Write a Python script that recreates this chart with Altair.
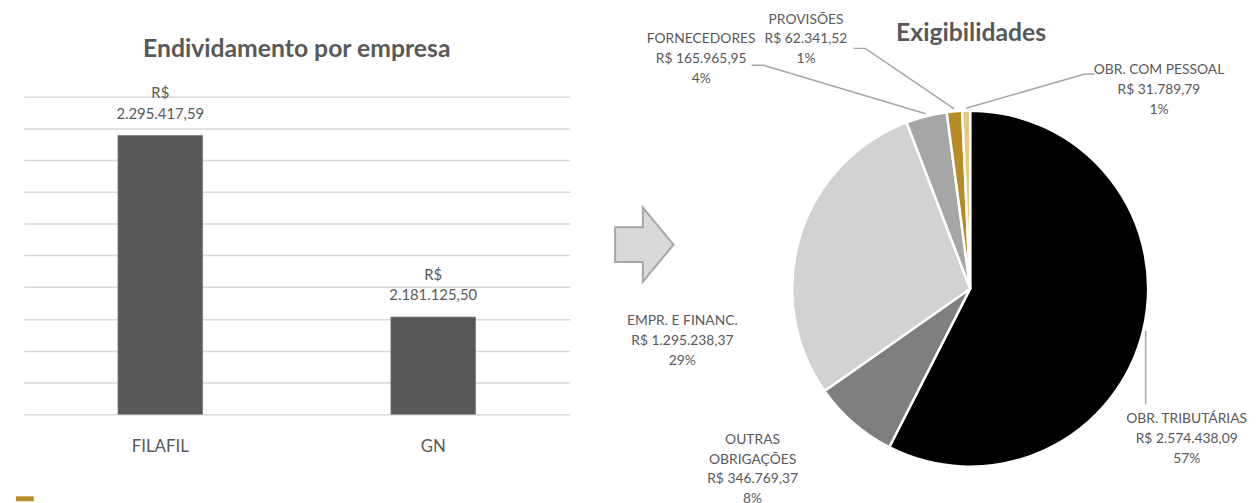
import math
import altair as alt
import pandas as pd

# ---------------- data ----------------
empresas = ["FILAFIL", "GN"]
endividamento = [2295417.59, 2181125.50]

contas = ["OBR. TRIBUTÁRIAS", "OUTRAS OBRIGAÇÕES", "EMPR. E FINANC.",
          "FORNECEDORES", "PROVISÕES", "OBR. COM PESSOAL"]
exigibilidades = [2574438.09, 346769.37, 1295238.37, 165965.95, 62341.52, 31789.79]

eixo_min = 2120000
eixo_max = 2320000
eixo_passo = 20000

# ---------------- style ----------------
FONT = "Lato"
TXT = "#595959"
cores = ["#000000", "#7f7f7f", "#d2d2d2", "#a6a6a6", "#b78b26", "#e9c87e"]
quebra_nome = {"OUTRAS OBRIGAÇÕES": "OUTRAS\nOBRIGAÇÕES"}

CX, CY, R = 372, 281, 180        # pie centre / radius (pixels in right panel)
R_GUIA = 182.5                   # where leader lines touch the pie
pos_rotulo = {                   # label first-line anchors (layout, pixels)
    "OBR. TRIBUTÁRIAS": (591, 413),
    "OUTRAS OBRIGAÇÕES": (152, 434),
    "EMPR. E FINANC.": (81, 314),
    "FORNECEDORES": (100, 29),
    "PROVISÕES": (206, 9),
    "OBR. COM PESSOAL": (563, 60),
}
guias = {                        # leader line bends / ends (layout, pixels)
    "OBR. TRIBUTÁRIAS": [(None, 398)],
    "FORNECEDORES": [(163, 55), (151, 55)],
    "PROVISÕES": [(266, 38), (254, 38)],
    "OBR. COM PESSOAL": [(488, 64), (498, 64)],
}
SETA = ("M -1 -0.593 L -0.051 -0.593 L -0.051 -1.271 L 1 0 "
        "L -0.051 1.271 L -0.051 0.593 L -1 0.593 Z")


def brl(v):
    s = f"{v:,.2f}"
    return s.replace(",", "X").replace(".", ",").replace("X", ".")


def percentuais(vals):
    """Percentages that add up to 100 (largest remainder, as Excel shows)."""
    tot = sum(vals)
    bruto = [v / tot * 100 for v in vals]
    base = [math.floor(b) for b in bruto]
    falta = 100 - sum(base)
    ordem = sorted(range(len(vals)), key=lambda i: bruto[i] - base[i],
                   reverse=True)
    for i in ordem[:falta]:
        base[i] += 1
    return base


# ---------------- left: bars ----------------
df_bar = pd.DataFrame({
    "empresa": empresas,
    "valor": endividamento,
    "rotulo": ["R$\n" + brl(v) for v in endividamento],
})
marcas = list(range(eixo_min, eixo_max + 1, eixo_passo))

x_bar = alt.X("empresa:N", sort=empresas,
              scale=alt.Scale(paddingInner=0.69, paddingOuter=0.345),
              axis=alt.Axis(title=None, labelFont=FONT, labelFontSize=17,
                            labelColor=TXT, ticks=False, tickSize=0,
                            domain=False, grid=False, labelAngle=0,
                            labelPadding=25))
y_bar = alt.Y("valor:Q",
              scale=alt.Scale(domain=[eixo_min, eixo_max], range=[408, 86.5],
                              zero=False, nice=False),
              axis=alt.Axis(title=None, labels=False, ticks=False,
                            domain=False, grid=True, values=marcas,
                            gridColor="#d9d9d9", gridWidth=1.5))

barras = alt.Chart(df_bar).mark_bar(color="#585858", stroke="#7a7a7a",
                                    strokeWidth=0.8).encode(
    x=x_bar, y=y_bar, y2=alt.datum(eixo_min))

rot_barras = alt.Chart(df_bar).mark_text(
    font=FONT, fontSize=15, color=TXT, lineBreak="\n", lineHeight=21,
    align="center", baseline="middle", dy=-43).encode(
    x=alt.X("empresa:N", sort=empresas), y="valor:Q", text="rotulo:N")

dummy = pd.DataFrame({"k": [0]})
quadrado = alt.Chart(dummy).mark_rect(color="#b78b26").encode(
    x=alt.value(-8), x2=alt.value(10), y=alt.value(491), y2=alt.value(496))

esquerda = alt.layer(barras, rot_barras, quadrado).properties(
    width=552, height=408,
    title=alt.TitleParams("Endividamento por empresa", font=FONT, fontSize=25,
                          fontWeight="bold", color=TXT, anchor="middle",
                          frame="group", offset=-51.5))

# ---------------- right: pie ----------------
total = sum(exigibilidades)
pcts = percentuais(exigibilidades)
linhas = []
meios = []
acum = 0.0
for i, (c, v) in enumerate(zip(contas, exigibilidades)):
    meios.append(2 * math.pi * (acum + v / 2) / total)
    acum += v
    lx, ly = pos_rotulo[c]
    linhas.append({
        "conta": c, "valor": v, "ordem": i,
        "rotulo": f"{quebra_nome.get(c, c)}\nR$ {brl(v)}\n{pcts[i]}%",
        "lx": lx, "ly": ly,
    })
df_pie = pd.DataFrame(linhas)

seg = []
for c, pts in guias.items():
    i = contas.index(c)
    sx = CX + R_GUIA * math.sin(meios[i])
    sy = CY - R_GUIA * math.cos(meios[i])
    todos = [(sx, sy)] + [((sx if px is None else px), py) for px, py in pts]
    for k, (px, py) in enumerate(todos):
        seg.append({"conta": c, "k": k, "px": px, "py": py})
df_seg = pd.DataFrame(seg)

seta = alt.Chart(dummy).mark_point(
    shape=SETA, size=3481, filled=True, fill="#d9d9d9", stroke="#a6a6a6",
    strokeWidth=2, opacity=1).encode(x=alt.value(42.5), y=alt.value(236.5))

fatias = alt.Chart(df_pie).mark_arc(radius=R, stroke="white",
                                    strokeWidth=2.5).encode(
    theta=alt.Theta("valor:Q", stack=True),
    order=alt.Order("ordem:Q"),
    color=alt.Color("conta:N", scale=alt.Scale(domain=contas, range=cores),
                    legend=None),
    x=alt.value(CX), y=alt.value(CY))

linhas_guia = alt.Chart(df_seg).mark_line(color="#a6a6a6",
                                          strokeWidth=1.5).encode(
    x=alt.X("px:Q", scale=None, axis=None),
    y=alt.Y("py:Q", scale=None, axis=None),
    detail="conta:N", order="k:Q")

rot_pie = alt.Chart(df_pie).mark_text(
    font=FONT, fontSize=14, color=TXT, lineBreak="\n", lineHeight=20,
    align="center", baseline="middle").encode(
    x=alt.X("lx:Q", scale=None, axis=None),
    y=alt.Y("ly:Q", scale=None, axis=None),
    text="rotulo:N")

direita = alt.layer(seta, fatias, linhas_guia, rot_pie).properties(
    width=640, height=487,
    title=alt.TitleParams("Exigibilidades", font=FONT, fontSize=25,
                          fontWeight="bold", color=TXT, anchor="middle",
                          frame="group", offset=-36, dx=53))

chart = alt.hconcat(esquerda, direita, spacing=33).properties(
    padding={"left": 8, "top": 0, "right": 0, "bottom": 0},
    background="white",
).configure_view(stroke=None)

chart.save("out.html", embed_options={"renderer": "svg", "actions": False})
